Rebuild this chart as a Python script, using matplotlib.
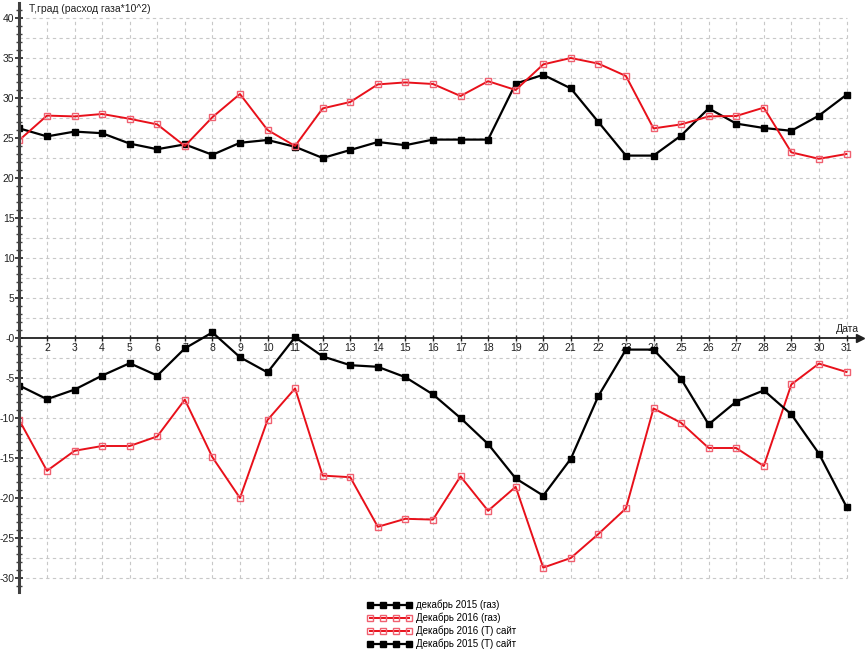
import matplotlib
matplotlib.use("Agg")
import matplotlib.pyplot as plt
from matplotlib.ticker import MultipleLocator

plt.rcParams['font.family'] = ['Liberation Sans', 'DejaVu Sans']

days = list(range(1, 32))

gas_2015 = [26.2, 25.2, 25.8, 25.6, 24.3, 23.6, 24.2, 22.9, 24.4, 24.75, 23.9,
            22.5, 23.5, 24.5, 24.1, 24.8, 24.8, 24.8, 31.8, 32.9, 31.2,
            27.0, 22.8, 22.8, 25.3, 28.7, 26.8, 26.25, 25.9, 27.8, 30.4]
gas_2016 = [24.75, 27.8, 27.7, 28.0, 27.4, 26.7, 24.0, 27.6, 30.5, 26.0, 24.0,
            28.7, 29.5, 31.7, 31.95, 31.75, 30.25, 32.1, 31.0, 34.2, 35.0,
            34.3, 32.75, 26.2, 26.7, 27.7, 27.75, 28.8, 23.2, 22.4, 23.0]
temp_2016 = [-10.3, -16.6, -14.1, -13.5, -13.5, -12.3, -7.7, -14.9, -20.0, -10.25, -6.3,
             -17.2, -17.4, -23.6, -22.6, -22.7, -17.3, -21.6, -18.6, -28.7, -27.5,
             -24.5, -21.3, -8.8, -10.6, -13.75, -13.75, -16.0, -5.8, -3.2, -4.25]
temp_2015 = [-5.95, -7.65, -6.45, -4.7, -3.15, -4.7, -1.3, 0.7, -2.4, -4.3, 0.1,
             -2.3, -3.4, -3.6, -4.9, -7.05, -10.0, -13.25, -17.55, -19.7, -15.1,
             -7.25, -1.45, -1.45, -5.1, -10.8, -7.95, -6.55, -9.55, -14.45, -21.1]

labels = ["декабрь 2015 (газ)", "Декабрь 2016 (газ)",
          "Декабрь 2016 (T) сайт", "Декабрь 2015 (T) сайт"]
ytick_vals = list(range(-30, 41, 5))
ytick_labels = [("-0" if v == 0 else str(v)) for v in ytick_vals]
xtick_vals = list(range(2, 32))

W, H = 867, 654
fig = plt.figure(figsize=(W / 100, H / 100), dpi=100)
px_left, px_right, px_top, px_bottom = 19.4, 860.0, 3.0, 592.0
ax = fig.add_axes([px_left / W, 1 - px_bottom / H,
                   (px_right - px_left) / W, (px_bottom - px_top) / H])
ax.set_xlim(1.0, 1 + (px_right - px_left) / 27.57)
ax.set_ylim((338 - px_bottom) / 8.0, (338 - px_top) / 8.0)

# grid
grid_kw = dict(color='#c8c8c8', linestyle=(0, (3, 3)), linewidth=0.8, zorder=0)
for d in days[1:]:
    ax.vlines(d, -30, 40, **grid_kw)
yg = -30.0
while yg <= 40.0:
    if abs(yg) > 1e-9:
        ax.hlines(yg, 1, 31, **grid_kw)
    yg += 2.5

red = '#e8101a'
red_edge = '#f06070'
ax.plot(days, gas_2015, color='black', lw=1.6, marker='s', ms=5,
        mfc='black', mec='black', label=labels[0], zorder=3)
ax.plot(days, gas_2016, color=red, lw=1.4, marker='s', ms=5,
        mfc='none', mec=red_edge, mew=1.0, label=labels[1], zorder=3)
ax.plot(days, temp_2016, color=red, lw=1.4, marker='s', ms=5,
        mfc='none', mec=red_edge, mew=1.0, label=labels[2], zorder=3)
ax.plot(days, temp_2015, color='black', lw=1.6, marker='s', ms=5,
        mfc='black', mec='black', label=labels[3], zorder=3)

for s in ['top', 'right']:
    ax.spines[s].set_visible(False)
ax.spines['left'].set_linewidth(2.2)
ax.spines['left'].set_color('#404040')
ax.spines['bottom'].set_position(('data', 0))
ax.spines['bottom'].set_linewidth(1.3)
ax.spines['bottom'].set_color('#202020')
ax.spines['left'].set_zorder(4)

ax.plot(1, 0, '>', color='#202020', ms=6, transform=ax.get_yaxis_transform(), clip_on=False)
ax.plot(0, 1, '^', color='#202020', ms=6, transform=ax.get_xaxis_transform(), clip_on=False)

ax.set_yticks(ytick_vals)
ax.set_yticklabels(ytick_labels)
ax.yaxis.set_minor_locator(MultipleLocator(1))
ax.tick_params(axis='y', which='major', direction='inout', length=6, width=1.2,
               labelsize=7.5, pad=0.5, colors='#202020')
ax.tick_params(axis='y', which='minor', direction='inout', length=4, width=1.0, colors='#404040')

ax.set_xticks(xtick_vals)
ax.set_xticklabels([str(v) for v in xtick_vals])
ax.tick_params(axis='x', which='major', direction='inout', length=5, width=1.0,
               labelsize=7.5, pad=1, colors='#202020')

ax.text(0.011, 1 - 5.5 / (px_bottom - px_top), "T,град (расход газа*10^2)", transform=ax.transAxes,
        fontsize=7.5, ha='left', va='center', color='#202020')
ax.text(31.45, 0.5, "Дата", fontsize=7.5, ha='right', va='bottom', color='#202020')

fig.legend(loc='upper left', bbox_to_anchor=(360 / W, 1 - 593 / H),
           frameon=False, fontsize=7, numpoints=4, handlelength=4.6,
           handletextpad=0.5, labelspacing=0.25, borderpad=0.2)

fig.savefig("out.png", dpi=100)
